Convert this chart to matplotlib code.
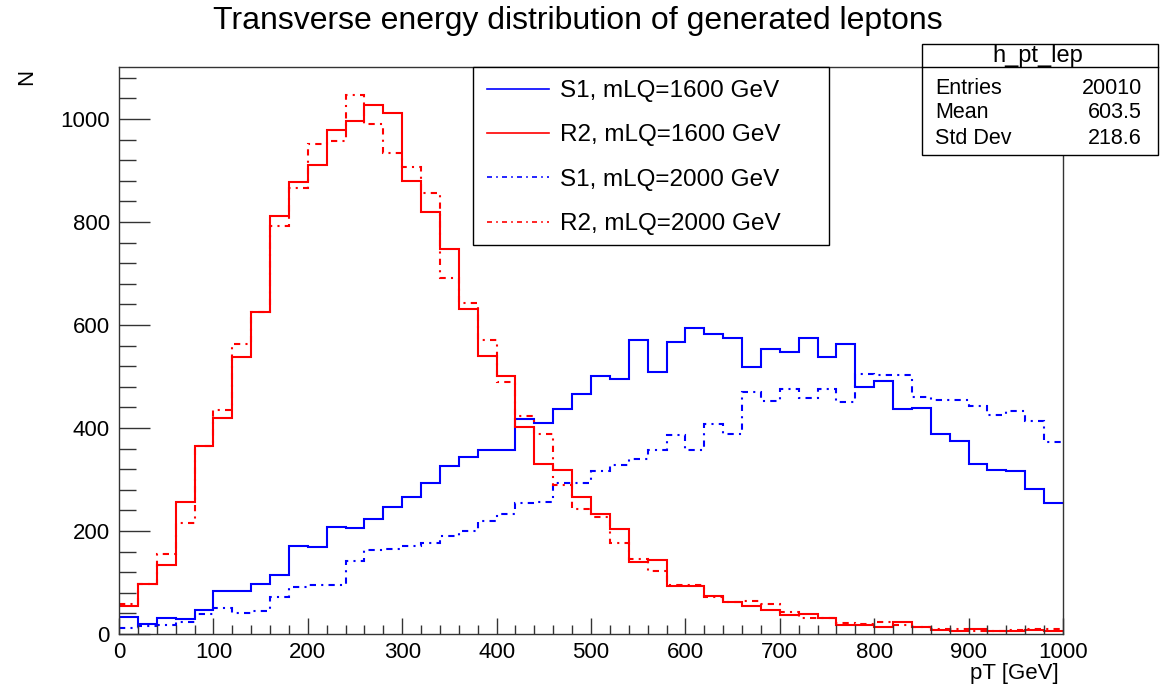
import numpy as np
import matplotlib
matplotlib.use('Agg')
import matplotlib.pyplot as plt
from matplotlib.patches import Rectangle
from matplotlib.lines import Line2D
from matplotlib.ticker import MultipleLocator

plt.rcParams['font.family'] = ['Liberation Sans', 'DejaVu Sans']

# bin edges: 50 bins of 20 GeV
edges = np.arange(0, 1001, 20)

# S1, mLQ=1600 GeV (h_pt_lep)
s1_1600 = [33, 19, 31, 29, 47, 83, 83, 97, 115, 170, 169,
           208, 206, 224, 247, 266, 294, 326, 344, 357, 357,
           418, 410, 437, 466, 501, 495, 571, 509, 567, 595,
           582, 574, 519, 554, 548, 574, 538, 564, 480, 492,
           437, 438, 389, 374, 331, 318, 317, 281, 255]
# R2, mLQ=1600 GeV
r2_1600 = [54, 97, 134, 257, 365, 419, 538, 626, 812, 878, 910,
           978, 997, 1028, 1012, 879, 819, 747, 632, 540, 501,
           401, 331, 319, 266, 233, 203, 139, 144, 93, 93,
           73, 62, 55, 47, 36, 39, 31, 18, 18, 13,
           23, 13, 8, 6, 10, 5, 5, 8, 5]
# S1, mLQ=2000 GeV
s1_2000 = [12, 16, 17, 23, 38, 51, 40, 44, 72, 92, 95,
           96, 142, 163, 165, 170, 177, 191, 200, 220, 233,
           255, 256, 293, 293, 316, 329, 340, 357, 386, 357,
           407, 389, 470, 453, 475, 459, 475, 450, 505, 503,
           503, 461, 454, 454, 442, 425, 433, 414, 372]
# R2, mLQ=2000 GeV
r2_2000 = [59, 97, 156, 215, 365, 434, 564, 626, 792, 866, 951,
           958, 1047, 990, 934, 906, 857, 692, 642, 571, 490,
           424, 389, 289, 242, 228, 177, 146, 122, 95, 95,
           72, 63, 65, 58, 42, 31, 32, 21, 19, 23,
           18, 13, 10, 10, 6, 6, 8, 10, 10]

labels = ['S1, mLQ=1600 GeV', 'R2, mLQ=1600 GeV',
          'S1, mLQ=2000 GeV', 'R2, mLQ=2000 GeV']
stats_names = ['Entries', 'Mean', 'Std Dev']
stats_vals = ['20010', '603.5', '218.6']

W, H = 1166, 685
fig = plt.figure(figsize=(W / 100, H / 100), dpi=100)


def fx(px):
    return px / W


def fy(py):
    return 1 - py / H


ax = fig.add_axes([fx(119), fy(634), fx(1063) - fx(119), fy(67) - fy(634)])

dash = (0, (3, 2.5, 1, 2.5))
series = [(s1_1600, 'blue', '-'), (r2_1600, 'red', '-'),
          (s1_2000, 'blue', dash), (r2_2000, 'red', dash)]
handles = []
for vals, col, ls in series:
    ax.stairs(vals, edges, baseline=None, color=col, linestyle=ls, lw=1.5)
    handles.append(Line2D([], [], color=col, linestyle=ls, lw=1.2))

ax.set_xlim(0, 1000)
ax.set_ylim(0, 1101)
ax.xaxis.set_major_locator(MultipleLocator(100))
ax.xaxis.set_minor_locator(MultipleLocator(20))
ax.yaxis.set_major_locator(MultipleLocator(200))
ax.yaxis.set_minor_locator(MultipleLocator(40))
ax.tick_params(axis='both', which='both', direction='in', top=False, right=False,
               labelsize=16, width=1, color='#333333')
ax.tick_params(axis='x', which='major', length=11.5, pad=6)
ax.tick_params(axis='x', which='minor', length=6.5)
ax.tick_params(axis='y', which='major', length=22, pad=6.5)
ax.tick_params(axis='y', which='minor', length=12)
for sp in ax.spines.values():
    sp.set_linewidth(1)
    sp.set_color('#333333')

# axis titles, ROOT style
fig.text(fx(1059), fy(673), 'pT [GeV]', ha='right', va='center', fontsize=16)
fig.text(fx(27), fy(77), 'N', rotation=90, ha='center', va='center', fontsize=16)
fig.text(fx(578), fy(21), 'Transverse energy distribution of generated leptons',
         ha='center', va='center', fontsize=23)

# legend box
fig.patches.append(Rectangle((fx(473), fy(245)), fx(829) - fx(473), fy(67) - fy(245),
                             transform=fig.transFigure, facecolor='white',
                             edgecolor='black', lw=1, zorder=5))
leg = fig.legend(handles, labels, loc='upper left',
                 bbox_to_anchor=(fx(487), fy(80)), bbox_transform=fig.transFigure,
                 frameon=False, fontsize=17.5, borderpad=0, borderaxespad=0,
                 handlelength=2.55, handletextpad=0.45, labelspacing=0.92)
leg.set_zorder(6)

# stats box
fig.patches.append(Rectangle((fx(922), fy(155)), fx(1158) - fx(922), fy(44) - fy(155),
                             transform=fig.transFigure, facecolor='white',
                             edgecolor='black', lw=1, zorder=5))
fig.lines.append(Line2D([fx(922), fx(1158)], [fy(67), fy(67)],
                        transform=fig.transFigure, color='black', lw=1, zorder=6))
fig.text(fx(1038), fy(56), 'h_pt_lep', ha='center', va='center', fontsize=17, zorder=7)
for i, (nm, v) in enumerate(zip(stats_names, stats_vals)):
    yy = fy(88 + 25 * i)
    fig.text(fx(935), yy, nm, ha='left', va='center', fontsize=15.5, zorder=7)
    fig.text(fx(1142), yy, v, ha='right', va='center', fontsize=15.5, zorder=7)

fig.savefig('out.png', dpi=100)
